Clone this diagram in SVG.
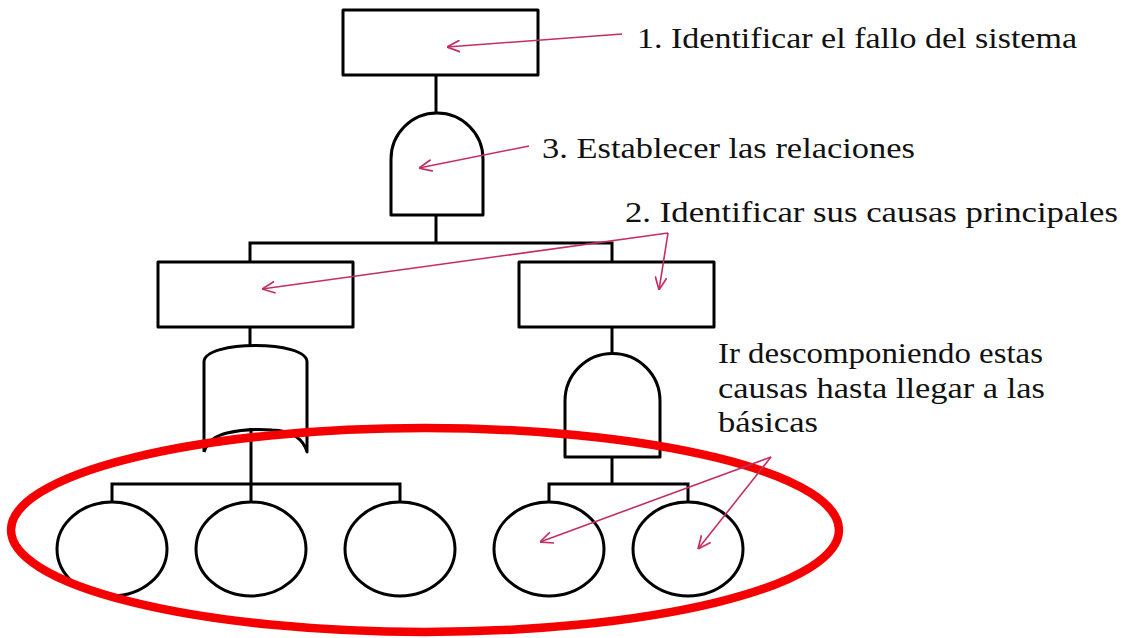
<svg xmlns="http://www.w3.org/2000/svg" width="1125" height="638" viewBox="0 0 1125 638">
  <style>
    .shape { fill: none; stroke: #000; stroke-width: 3; stroke-linejoin: round; }
    .wire { fill: none; stroke: #000; stroke-width: 3; }
    .note { fill: none; stroke: #c42e64; stroke-width: 1.6; }
    .label { font-family: "Liberation Serif", "DejaVu Serif", serif; font-size: 29px; fill: #111; }
    .focus { fill: none; stroke: #f50000; stroke-width: 8.5; }
  </style>
  <defs>
    <marker id="openArrow" viewBox="0 0 10 10" refX="10" refY="5" markerWidth="13" markerHeight="13" markerUnits="userSpaceOnUse" orient="auto">
      <path d="M0,0.5 L10,5 L0,9.5" fill="none" stroke="#c42e64" stroke-width="1.3"/>
    </marker>
  </defs>

  <rect width="1125" height="638" fill="#fff"/>

  <!-- tree wiring -->
  <g id="connectors">
    <line class="wire" x1="436" y1="75" x2="436" y2="113"/>
    <line class="wire" x1="436" y1="215" x2="436" y2="243"/>
    <polyline class="wire" points="250,262 250,243 612,243 612,262"/>
    <line class="wire" x1="250" y1="327" x2="250" y2="345"/>
    <line class="wire" x1="612" y1="327" x2="612" y2="354"/>
    <line class="wire" x1="251" y1="428" x2="251" y2="502"/>
    <polyline class="wire" points="112,502 112,484 400,484 400,502"/>
    <line class="wire" x1="612" y1="457" x2="612" y2="484"/>
    <polyline class="wire" points="549,502 549,484 688,484 688,502"/>
  </g>

  <!-- events and gates -->
  <g id="top-event">
    <rect class="shape" x="343" y="10" width="195" height="65"/>
  </g>
  <g id="and-gate-top">
    <path class="shape" d="M391,215 V159 A46,46 0 0 1 483,159 V215 Z"/>
  </g>
  <g id="cause-left">
    <rect class="shape" x="158" y="262" width="195" height="65"/>
  </g>
  <g id="cause-right">
    <rect class="shape" x="519" y="262" width="195" height="65"/>
  </g>
  <g id="or-gate-left">
    <path class="shape" d="M204,452 V362 C204,340 307,340 307,362 V452 C304,440 292,430 272,430 C258,429 240,430 227,433 C214,436 207,443 204,452"/>
  </g>
  <g id="and-gate-right">
    <path class="shape" d="M565,457 V401 A47.5,47.5 0 0 1 660,401 V457 Z"/>
  </g>
  <g id="basic-1"><ellipse class="shape" cx="112" cy="549" rx="55" ry="47"/></g>
  <g id="basic-2"><ellipse class="shape" cx="251" cy="549" rx="55" ry="47"/></g>
  <g id="basic-3"><ellipse class="shape" cx="400" cy="549" rx="55" ry="47"/></g>
  <g id="basic-4"><ellipse class="shape" cx="549" cy="549" rx="55" ry="47"/></g>
  <g id="basic-5"><ellipse class="shape" cx="688" cy="549" rx="55" ry="47"/></g>

  <!-- highlight round the basic events -->
  <g id="basic-highlight">
    <ellipse class="focus" cx="425" cy="530" rx="414" ry="102"/>
  </g>

  <!-- annotation pointers -->
  <g id="annotation-arrows">
    <line class="note" x1="622" y1="34" x2="447" y2="47" marker-end="url(#openArrow)"/>
    <line class="note" x1="529" y1="146" x2="419" y2="168" marker-end="url(#openArrow)"/>
    <line class="note" x1="668" y1="233" x2="262" y2="289" marker-end="url(#openArrow)"/>
    <line class="note" x1="668" y1="233" x2="659" y2="290" marker-end="url(#openArrow)"/>
    <line class="note" x1="771" y1="457" x2="540" y2="542" marker-end="url(#openArrow)"/>
    <line class="note" x1="771" y1="457" x2="698" y2="549" marker-end="url(#openArrow)"/>
  </g>

  <!-- step labels -->
  <g id="labels">
    <text class="label" x="637" y="48" textLength="440" lengthAdjust="spacingAndGlyphs">1. Identificar el fallo del sistema</text>
    <text class="label" x="542" y="158" textLength="373" lengthAdjust="spacingAndGlyphs">3. Establecer las relaciones</text>
    <text class="label" x="625" y="222" textLength="493" lengthAdjust="spacingAndGlyphs">2. Identificar sus causas principales</text>
    <text class="label" x="718" y="363" textLength="325" lengthAdjust="spacingAndGlyphs">Ir descomponiendo estas</text>
    <text class="label" x="718" y="398" textLength="327" lengthAdjust="spacingAndGlyphs">causas hasta llegar a las</text>
    <text class="label" x="718" y="432" textLength="100" lengthAdjust="spacingAndGlyphs">básicas</text>
  </g>
</svg>
